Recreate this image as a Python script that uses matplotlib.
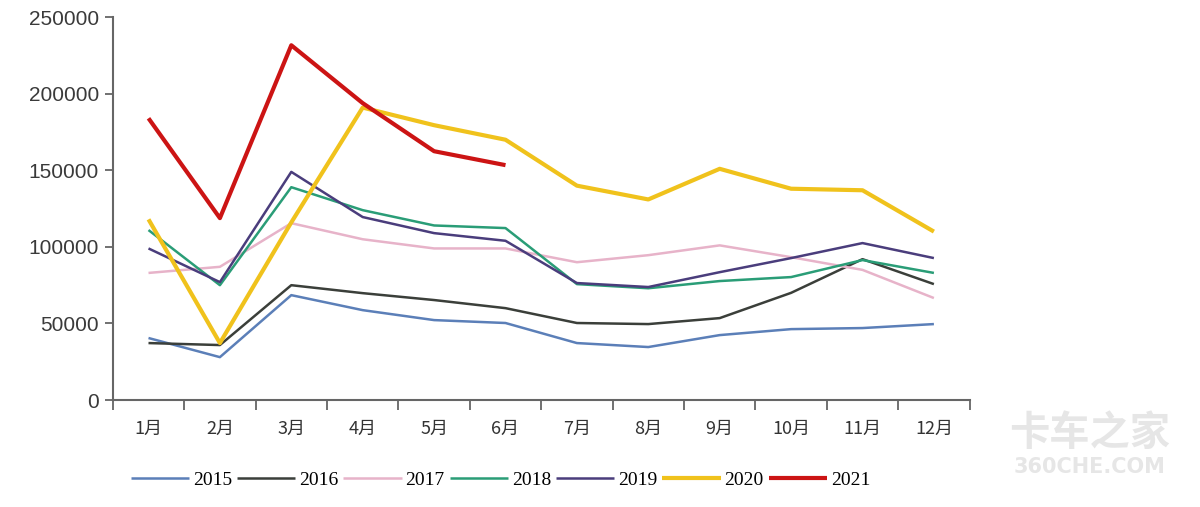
import matplotlib.pyplot as plt
import numpy as np

months = ['1月', '2月', '3月', '4月', '5月', '6月', '7月', '8月', '9月', '10月', '11月', '12月']

s2015 = [40500, 28000, 68500, 58700, 52200, 50300, 37200, 34600, 42400, 46300, 47000, 49600]
s2016 = [37200, 35900, 75000, 69800, 65300, 60000, 50300, 49600, 53500, 70000, 92000, 75700]
s2017 = [83000, 87000, 115500, 105000, 99000, 99000, 90000, 94600, 101000, 93300, 85000, 66600]
s2018 = [111000, 75000, 139000, 124000, 114000, 112300, 75700, 73000, 77700, 80300, 91400, 83000]
s2019 = [99000, 77000, 149000, 119500, 109000, 104000, 76400, 73800, 83500, 92700, 102500, 92700]
s2020 = [118000, 37200, 116000, 191000, 179500, 170000, 140000, 131000, 151000, 138000, 137000, 110000]
s2021 = [184000, 118800, 231700, 193900, 162500, 153400]

yticks = [0, 50000, 100000, 150000, 200000, 250000]

series = [
    ('2015', s2015, '#5b7fb8', 1.8),
    ('2016', s2016, '#3b3f3a', 1.8),
    ('2017', s2017, '#e7b3c9', 1.8),
    ('2018', s2018, '#2a9d77', 1.8),
    ('2019', s2019, '#4a3d7c', 1.8),
    ('2020', s2020, '#f0c21c', 3.0),
    ('2021', s2021, '#cc1414', 3.0),
]

fig = plt.figure(figsize=(12, 5.07), dpi=100)
ax = fig.add_axes([0.094, 0.211, 0.714, 0.755])

for name, vals, col, lw in series:
    ax.plot(np.arange(len(vals)), vals, color=col, lw=lw, label=name, solid_capstyle='butt')

ax.set_xlim(-0.5, 11.5)
ax.set_ylim(0, 250000)
ax.set_yticks(yticks)
ax.set_yticklabels([str(v) for v in yticks], fontsize=15, family='Liberation Sans', color='#3a3a3a')

ax.set_xticks(np.arange(12))
ax.set_xticklabels(months, fontsize=13, family=['Noto Sans CJK SC', 'DejaVu Sans'], color='#333333')
ax.set_xticks(np.arange(-0.5, 12, 1), minor=True)
ax.tick_params(axis='x', which='major', length=0, pad=14)
ax.tick_params(axis='x', which='minor', length=7, width=1.3, color='#666666', direction='out')
ax.tick_params(axis='y', length=6, width=1.3, color='#666666', direction='out', pad=4)

for side in ['top', 'right']:
    ax.spines[side].set_visible(False)
for side in ['left', 'bottom']:
    ax.spines[side].set_color('#666666')
    ax.spines[side].set_linewidth(1.5)

fig.legend(loc='center', bbox_to_anchor=(0.417, 0.053), ncol=7, frameon=False,
           prop={'family': 'Liberation Serif', 'size': 14}, handlelength=3.0,
           handletextpad=0.2, columnspacing=0.25)

# watermark
fig.text(0.908, 0.145, '卡车之家', fontsize=29, family='Noto Sans CJK SC', color='#e6e6e6',
         ha='center', va='center', fontweight='bold')
fig.text(0.908, 0.078, '360CHE.COM', fontsize=15, family='DejaVu Sans', color='#e6e6e6',
         ha='center', va='center', fontweight='bold')

plt.savefig('out.png', dpi=100)
